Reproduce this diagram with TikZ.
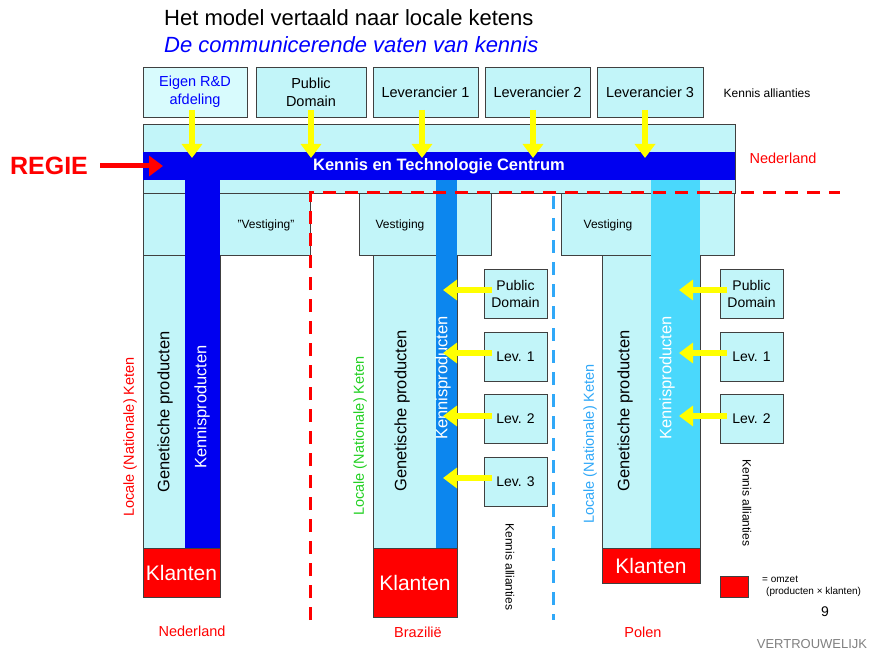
\documentclass[tikz,border=0pt]{standalone}
\usepackage{fontspec}
\setmainfont{Liberation Sans}
\usetikzlibrary{arrows.meta}
\definecolor{lc}{HTML}{C2F5F9}
\definecolor{lctwo}{HTML}{D8FBFD}
\definecolor{bband}{HTML}{0000F0}
\definecolor{mblue}{HTML}{0C86EE}
\definecolor{lblue}{HTML}{4AD8FC}
\definecolor{rd}{HTML}{FF0000}
\definecolor{bord}{HTML}{404040}
\definecolor{grn}{HTML}{22D022}
\definecolor{skyb}{HTML}{30A8F8}
\definecolor{yel}{HTML}{FFFF00}
\newcommand\myfs[1]{\fontsize{#1}{#1}\selectfont}
\newcommand\myfsl[2]{\fontsize{#1}{#2}\selectfont}
\begin{document}
\begin{tikzpicture}[x=1pt,y=-1pt,
  box/.style={draw=bord, fill=lc, line width=0.8pt, inner sep=0pt, align=center},
  bar/.style={inner sep=0pt, draw=none},
  yarr/.style={draw=yel, line width=5.5pt, -{Triangle[width=20pt,length=14pt]}},
  txt/.style={inner sep=0pt, align=center},
  lbl/.style={inner sep=0pt, text=rd, font=\myfs{14.5}},
  gp/.style={inner sep=0pt, rotate=90, font=\myfs{16.5}},
  kp/.style={inner sep=0pt, rotate=90, text=white, font=\myfs{16.5}},
  lk/.style={inner sep=0pt, rotate=90, font=\myfs{14.5}},
  ka/.style={inner sep=0pt, rotate=-90, font=\myfs{12}},
  kl/.style={box, fill=rd, text=white, font=\myfs{21}},
  sbox/.style={box, minimum width=63pt, minimum height=49pt, font=\myfsl{14}{17}}
]
\useasboundingbox (0,0) rectangle (874,652);

% titles
\node[txt, anchor=west, font=\myfs{22}] (title) at (164,18) {Het model vertaald naar locale ketens};
\node[txt, anchor=west, font=\myfs{22}\itshape, text=blue] (sub) at (164,45) {De communicerende vaten van kennis};

% top boxes
\node[box, fill=lctwo, text=blue, minimum width=104pt, minimum height=50pt, font=\myfsl{14.5}{18}] (eig) at (195,92) {Eigen R\&D\\afdeling};
\node[box, minimum width=110pt, minimum height=50pt, font=\myfsl{14.5}{18}] (pdt) at (311,92) {Public\\Domain};
\node[box, minimum width=105pt, minimum height=50pt, font=\myfs{14.5}] (lt1) at (425.5,92) {Leverancier 1};
\node[box, minimum width=105pt, minimum height=50pt, font=\myfs{14.5}] (lt2) at (537.5,92) {Leverancier 2};
\node[box, minimum width=106pt, minimum height=50pt, font=\myfs{14.5}] (lt3) at (650,92) {Leverancier 3};
\node[txt, font=\myfs{12}] (kat) at (767,93) {Kennis allianties};

% centre box
\node[box, minimum width=592pt, minimum height=69pt] (kt) at (439,158.5) {};

% vestiging boxes
\node[box, minimum width=167pt, minimum height=62pt] (vn) at (226.5,224) {};
\node[box, minimum width=132pt, minimum height=62pt] (vb) at (425,224) {};
\node[box, minimum width=173pt, minimum height=62pt] (vp) at (647.5,224) {};

% columns
\node[box, minimum width=77pt, minimum height=293pt] (cn) at (181.5,401.5) {};
\node[box, minimum width=84pt, minimum height=293pt] (cb) at (415,401.5) {};
\node[box, minimum width=98pt, minimum height=293pt] (cp) at (651,401.5) {};

% knowledge bars
\node[bar, fill=bband, minimum width=35pt, minimum height=396pt] (barn) at (202.5,350) {};
\node[bar, fill=mblue, minimum width=21pt, minimum height=368pt] (barb) at (446.5,364) {};
\node[bar, fill=lblue, minimum width=49pt, minimum height=368pt] (barp) at (675.5,364) {};

% band
\node[bar, fill=bband, minimum width=592pt, minimum height=28pt, text=white, font=\myfs{16.5}\bfseries] (band) at (439,166) {Kennis en Technologie Centrum};

% vestiging texts
\node[txt, font=\myfs{12}] (vnt) at (266,225) {"Vestiging"};
\node[txt, font=\myfs{12}] (vbt) at (400,225) {Vestiging};
\node[txt, font=\myfs{12}] (vpt) at (608,225) {Vestiging};

% klanten
\node[kl, minimum width=77pt, minimum height=49pt] (kn) at (181.5,572.5) {Klanten};
\node[kl, minimum width=84pt, minimum height=69pt] (kb) at (415,582.5) {Klanten};
\node[kl, minimum width=98pt, minimum height=35pt] (kpn) at (651,565.5) {Klanten};

% rotated texts
\node[gp] (gn) at (165,412) {Genetische producten};
\node[kp] (kpn1) at (202,407) {Kennisproducten};
\node[lk, text=rd] (lkn) at (130,437) {Locale (Nationale) Keten};
\node[gp] (gb) at (402,411) {Genetische producten};
\node[kp] (kpb) at (443,378) {Kennisproducten};
\node[lk, text=grn] (lkb) at (360,436) {Locale (Nationale) Keten};
\node[ka] (kab) at (510,567) {Kennis allianties};
\node[gp] (gpp) at (625,411) {Genetische producten};
\node[kp] (kpp) at (667,378) {Kennisproducten};
\node[lk, text=skyb] (lkp) at (590,444) {Locale (Nationale) Keten};
\node[ka] (kap) at (747,503) {Kennis allianties};

% side boxes
\node[sbox] (pdb) at (515.5,293.5) {Public\\Domain};
\node[sbox] (lb1) at (515.5,356.5) {Lev. 1};
\node[sbox] (lb2) at (515.5,419) {Lev. 2};
\node[sbox] (lb3) at (515.5,482) {Lev. 3};
\node[sbox] (pdp) at (751.5,293.5) {Public\\Domain};
\node[sbox] (lp1) at (751.5,356.5) {Lev. 1};
\node[sbox] (lp2) at (751.5,419) {Lev. 2};

% top arrows
\foreach \n/\x in {eig/192, pdt/311, lt1/422, lt2/533, lt3/645}{
  \coordinate (s\n) at (\x,110);
  \coordinate (t\n) at (\x,158);
  \draw[yarr] (s\n) -- (t\n);
}
% side arrows
\foreach \n/\y in {pdb/290, lb1/353, lb2/416, lb3/478}{
  \coordinate (s\n) at (492,\y);
  \coordinate (t\n) at (443,\y);
  \draw[yarr] (s\n) -- (t\n);
}
\foreach \n/\y in {pdp/290, lp1/353, lp2/416}{
  \coordinate (s\n) at (727,\y);
  \coordinate (t\n) at (679,\y);
  \draw[yarr] (s\n) -- (t\n);
}

% regie
\node[txt, text=rd, font=\myfs{25}\bfseries] (regie) at (49,166) {REGIE};
\coordinate (rs) at (100,166);
\coordinate (rt) at (163,166);
\draw[draw=rd, line width=5pt, -{Triangle[width=20pt,length=14pt]}] (rs) -- (rt);
\node[lbl] (nlr) at (783,158) {Nederland};

% dashed borders
\coordinate (da) at (310,620);
\coordinate (db) at (310,193);
\coordinate (dc) at (840,193);
\draw[rd, line width=3pt, dash pattern=on 13pt off 9pt] (da) -- (db) -- (dc);
\coordinate (ba) at (553,196);
\coordinate (bb) at (553,620);
\draw[skyb, line width=3pt, dash pattern=on 13pt off 9pt] (ba) -- (bb);

% bottom labels
\node[lbl] (bn) at (192,631) {Nederland};
\node[lbl] (bbz) at (418,632) {Brazilië};
\node[lbl] (bp) at (643,632) {Polen};

% legend
\node[box, fill=rd, minimum width=28pt, minimum height=21pt] (leg) at (734,586.5) {};
\node[txt, anchor=west, font=\myfs{10}] (lg1) at (762,579) {= omzet};
\node[txt, anchor=west, font=\myfs{10}] (lg2) at (766,592) {(producten × klanten)};
\node[txt, font=\myfs{14}] (nine) at (825,612) {9};
\node[txt, font=\myfs{13}, text=gray] (vw) at (812,644) {VERTROUWELIJK};
\end{tikzpicture}
\end{document}
